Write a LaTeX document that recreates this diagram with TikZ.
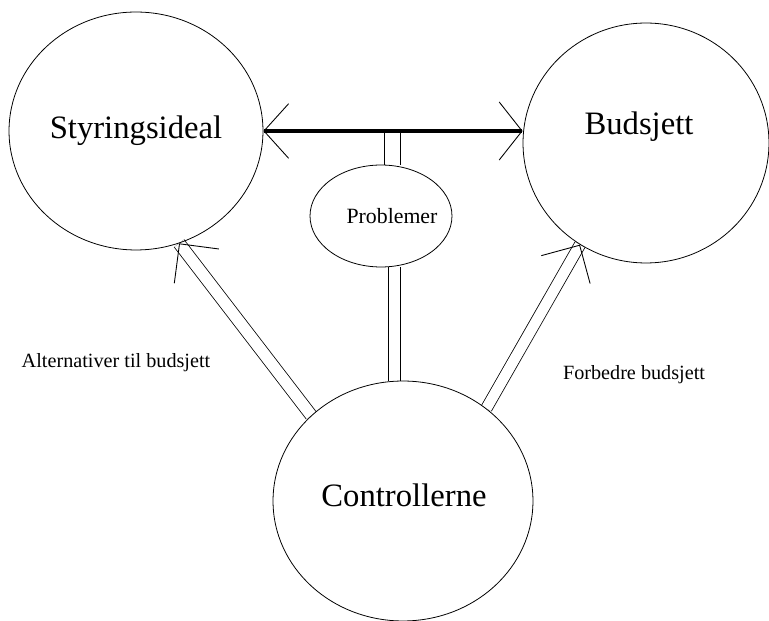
\documentclass[tikz,border=0pt]{standalone}
\usepackage{fontspec}
\setmainfont{Liberation Serif}
\usepackage{tikz}
\usetikzlibrary{arrows.meta,positioning,shapes.geometric,backgrounds}

\begin{document}
\begin{tikzpicture}[x=0.02cm, y=-0.02cm,
  bubble/.style={draw, ellipse, inner sep=0pt, line width=0.45pt},
  bigtext/.style={font=\fontsize{18.6}{22}\selectfont},
  smalltext/.style={font=\fontsize{11.5}{14}\selectfont},
  link/.style={draw, double, double distance=6.5pt, line width=0.45pt},
  rail/.style={draw, line width=0.45pt},
  barbtip/.style={white, -{Straight Barb[color=black, length=16pt, width=32pt, line width=0.5pt]}}]

  \useasboundingbox (0,0) rectangle (769,621);

  % Circles
  \node[bubble, minimum width=5.08cm, minimum height=4.76cm, bigtext] (styr) at (136,131) {Styringsideal};
  \node[bubble, minimum width=4.92cm, minimum height=4.8cm,
        label={[bigtext, shift={(-7,-16)}]center:Budsjett}] (buds) at (646,143) {};
  \node[bubble, minimum width=5.2cm, minimum height=4.8cm,
        label={[bigtext, shift={(1,-6)}]center:Controllerne}] (ctrl) at (403,501) {};
  \node[bubble, minimum width=2.84cm, minimum height=2.04cm,
        label={[font=\fontsize{12.4}{15}\selectfont, shift={(11,0)}]center:Problemer}] (prob) at (381,216) {};

  % Thick bar between the ideals
  \coordinate (joint) at (prob.north |- styr.east);
  \coordinate (base) at (prob.south |- ctrl.north);
  \draw[line width=2.8pt,
        {Straight Barb[length=14pt, width=31pt, line width=0.5pt]}-{Straight Barb[length=13pt, width=33pt, line width=0.5pt]}]
    (styr.east) -- (buds.west |- styr.east);

  % Double links to Problemer
  \foreach \dx in {0.06cm,0.38cm}
    \draw[rail] ([xshift=\dx]prob.north) -- ([xshift=\dx]joint);
  \foreach \dx in {0.14cm,0.38cm}
    \draw[rail] ([xshift=\dx]prob.south) -- ([xshift=\dx]base);

  % Double arrows from Controllerne
  \begin{scope}[on background layer]
    \draw[link] (ctrl.137) -- (styr.-69);
    \draw[barbtip] (ctrl.137) -- (styr.-69);
    \draw[link, double distance=6pt] (ctrl.48) -- (buds.-123);
    \draw[barbtip] (ctrl.48) -- (buds.-123);
  \end{scope}

  % Side texts
  \node[smalltext] (alt) at (116,363) {Alternativer til budsjett};
  \node[smalltext] (forb) at (634,375) {Forbedre budsjett};

\end{tikzpicture}
\end{document}
